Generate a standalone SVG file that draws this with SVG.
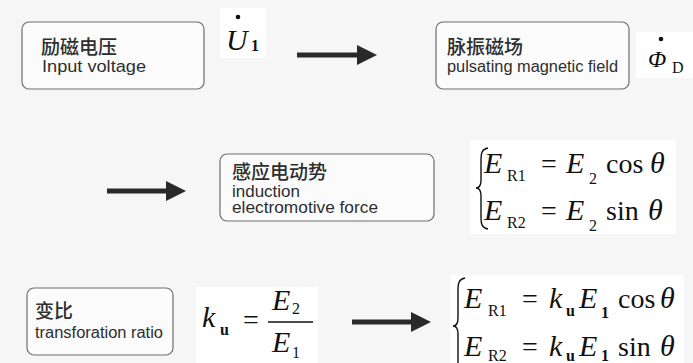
<svg xmlns="http://www.w3.org/2000/svg" width="693" height="363" viewBox="0 0 693 363">
<style>
.box{fill:#fbfbfb;stroke:#6e6e6e;stroke-width:1.2}
.zh{font-family:"Noto Sans CJK SC","Liberation Sans",sans-serif;font-size:19px;font-weight:500;fill:#2e2e2e}
.en{font-family:"Liberation Sans","Noto Sans",sans-serif;font-size:16px;fill:#2e2e2e}
.m{font-family:"Liberation Serif","DejaVu Serif",serif;font-size:28px;fill:#111}
.mi{font-family:"Liberation Serif","DejaVu Serif",serif;font-size:30px;font-style:italic;fill:#111}
.s{font-family:"Liberation Serif","DejaVu Serif",serif;font-size:16px;fill:#111}
.sb{font-family:"Liberation Serif","DejaVu Serif",serif;font-size:16px;font-weight:bold;fill:#111}
.pat{fill:#ffffff}
.arr{stroke:#2a2a2a;stroke-width:5;fill:none}
.brace{stroke:#111;stroke-width:1.4;fill:none}
</style>
<defs>
<marker id="ah" viewBox="0 0 10 10" refX="0" refY="5" markerWidth="4.4" markerHeight="4" markerUnits="strokeWidth" orient="auto">
<path d="M0,0 L10,5 L0,10 z" fill="#2a2a2a"/>
</marker>
</defs>
<rect width="693" height="363" fill="#f6f6f6"/>

<!-- formula background patches -->
<rect class="pat" x="220" y="8" width="46" height="50"/>
<rect class="pat" x="636" y="32" width="57" height="46"/>
<rect class="pat" x="470" y="140" width="206" height="94"/>
<rect class="pat" x="196" y="287" width="122" height="76"/>
<rect class="pat" x="450" y="275" width="234" height="88"/>

<g id="connectors">
<line class="arr" x1="297" y1="55" x2="357" y2="55" marker-end="url(#ah)"/>
<line class="arr" x1="107" y1="191" x2="166" y2="191" marker-end="url(#ah)"/>
<line class="arr" x1="352" y1="322" x2="411" y2="322" marker-end="url(#ah)"/>
</g>

<g id="node-input-voltage">
<rect class="box" x="22" y="22" width="182" height="67" rx="7"/>
<text class="zh" x="41" y="54">励磁电压</text>
<text class="en" x="42" y="72" textLength="104" lengthAdjust="spacingAndGlyphs">Input voltage</text>
</g>

<g id="label-U1">
<circle cx="238" cy="17" r="2.3" fill="#111"/>
<text class="mi" x="226" y="50">U</text>
<text class="sb" x="251" y="51">1</text>
</g>

<g id="node-pulsating-field">
<rect class="box" x="436" y="22" width="193" height="67" rx="7"/>
<text class="zh" x="447" y="54">脉振磁场</text>
<text class="en" x="447" y="72" textLength="171" lengthAdjust="spacingAndGlyphs">pulsating magnetic field</text>
</g>

<g id="label-PhiD">
<circle cx="661" cy="39" r="2.3" fill="#111"/>
<text class="mi" x="648" y="67" style="font-size:24px">Φ</text>
<text class="s" x="672" y="73">D</text>
</g>

<g id="node-induction-emf">
<rect class="box" x="220" y="154" width="214" height="67" rx="7"/>
<text class="zh" x="232" y="179">感应电动势</text>
<text class="en" x="232" y="197" textLength="68" lengthAdjust="spacingAndGlyphs">induction</text>
<text class="en" x="232" y="213" textLength="146" lengthAdjust="spacingAndGlyphs">electromotive force</text>
</g>

<g id="formula-emf">
<path class="brace" d="M488,148 C482,149 481,153 481,160 L481,180 C481,185 480,188 476,188 C480,188 481,191 481,196 L481,218 C481,224 482,228 488,229"/>
<text class="mi" x="484" y="173">E</text>
<text class="s" x="507" y="181">R1</text>
<text class="m" x="541" y="173">=</text>
<text class="mi" x="566" y="173">E</text>
<text class="s" x="589" y="184">2</text>
<text class="m" x="606" y="173">cos</text>
<text class="mi" x="650" y="173">θ</text>
<text class="mi" x="484" y="220">E</text>
<text class="s" x="507" y="228">R2</text>
<text class="m" x="541" y="220">=</text>
<text class="mi" x="566" y="220">E</text>
<text class="s" x="589" y="231">2</text>
<text class="m" x="606" y="220">sin</text>
<text class="mi" x="648" y="220">θ</text>
</g>

<g id="node-transformation-ratio">
<rect class="box" x="27" y="288" width="146" height="67" rx="7"/>
<text class="zh" x="35" y="318">变比</text>
<text class="en" x="35" y="338" textLength="128" lengthAdjust="spacingAndGlyphs">transforation ratio</text>
</g>

<g id="formula-ku">
<text class="mi" x="202" y="327">k</text>
<text class="sb" x="220" y="335">u</text>
<text class="m" x="243" y="329">=</text>
<line x1="268" y1="322" x2="313" y2="322" stroke="#111" stroke-width="1.4"/>
<text class="mi" x="272" y="310">E</text>
<text class="s" x="292" y="314">2</text>
<text class="mi" x="272" y="352">E</text>
<text class="s" x="292" y="358">1</text>
</g>

<g id="formula-emf-ku">
<path class="brace" d="M465,278 C459,279 458,283 458,290 L458,318 C458,323 457,326 453,326 C457,326 458,329 458,334 L458,362 C458,368 459,372 465,373"/>
<text class="mi" x="464" y="308">E</text>
<text class="s" x="488" y="316">R1</text>
<text class="m" x="522" y="308">=</text>
<text class="mi" x="549" y="308">k</text>
<text class="sb" x="566" y="316">u</text>
<text class="mi" x="579" y="308">E</text>
<text class="sb" x="601" y="318">1</text>
<text class="m" x="618" y="308">cos</text>
<text class="mi" x="660" y="308">θ</text>
<text class="mi" x="464" y="356">E</text>
<text class="s" x="488" y="361">R2</text>
<text class="m" x="522" y="356">=</text>
<text class="mi" x="549" y="356">k</text>
<text class="sb" x="566" y="361">u</text>
<text class="mi" x="579" y="356">E</text>
<text class="sb" x="601" y="361">1</text>
<text class="m" x="618" y="356">sin</text>
<text class="mi" x="660" y="356">θ</text>
</g>
</svg>
